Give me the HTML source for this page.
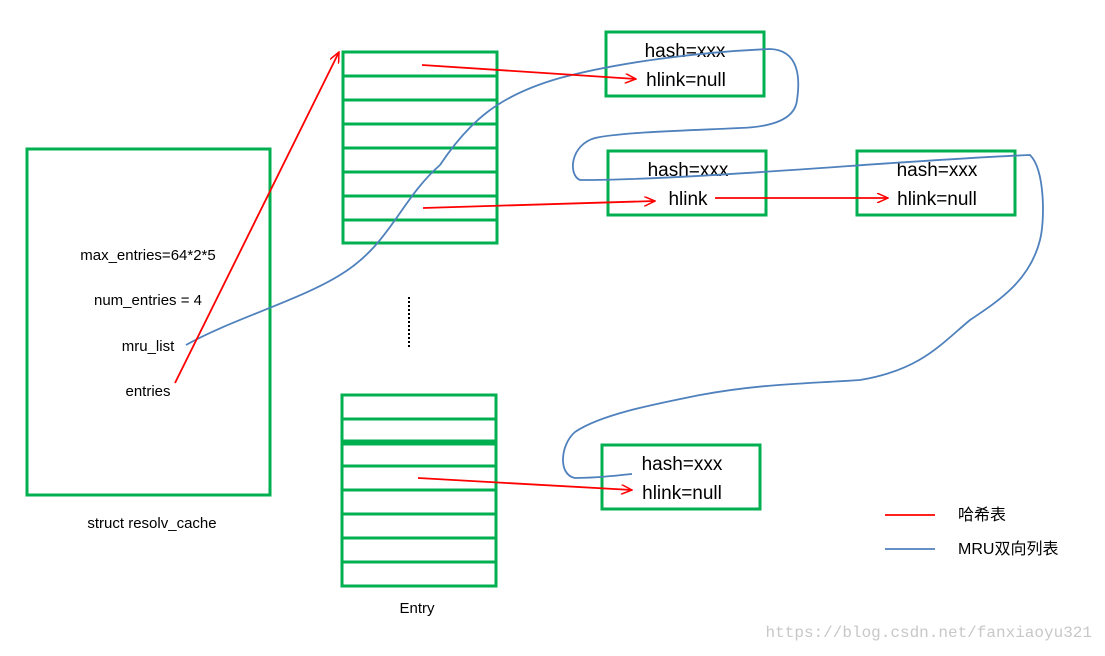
<!DOCTYPE html>
<html><head><meta charset="utf-8"><style>
body{margin:0;background:#fff;}
svg text{font-family:"Liberation Sans","Noto Sans CJK SC",sans-serif;fill:#000;}
</style></head><body>
<svg width="1105" height="651" xmlns="http://www.w3.org/2000/svg">
<defs>
<marker id="a" markerWidth="12" markerHeight="10" refX="11" refY="5" orient="auto" markerUnits="userSpaceOnUse">
<path d="M0,0 L11,5 L0,10" fill="none" stroke="#f00" stroke-width="1.5"/>
</marker>
</defs>
<g fill="none" stroke="#00b050" stroke-width="3">
<rect x="27" y="149" width="243" height="346"/>
<rect x="343" y="52" width="154" height="191"/>
<path d="M343 76H497M343 100H497M343 124H497M343 148H497M343 172H497M343 196H497M343 220H497"/>
<rect x="342" y="395" width="154" height="191"/>
<path d="M342 419H496M342 441H496M342 444H496M342 466H496M342 490H496M342 514H496M342 538H496M342 562H496"/>
<rect x="606" y="32" width="158" height="64"/>
<rect x="608" y="151" width="158" height="64"/>
<rect x="857" y="151" width="158" height="64"/>
<rect x="602" y="445" width="158" height="64"/>
</g>
<g font-size="15" text-anchor="middle">
<text x="148" y="260">max_entries=64*2*5</text>
<text x="148" y="305">num_entries  = 4</text>
<text x="148" y="351">mru_list</text>
<text x="148" y="396">entries</text>
<text x="152" y="528">struct resolv_cache</text>
<text x="417" y="613">Entry</text>
</g>
<g font-size="19" text-anchor="middle">
<text x="685" y="57">hash=xxx</text>
<text x="686" y="86">hlink=null</text>
<text x="688" y="176">hash=xxx</text>
<text x="688" y="205">hlink</text>
<text x="937" y="176">hash=xxx</text>
<text x="937" y="205">hlink=null</text>
<text x="682" y="470">hash=xxx</text>
<text x="682" y="499">hlink=null</text>
</g>
<path d="M409 297V347" stroke="#000" stroke-width="2" stroke-dasharray="2,2"/>
<path d="M186 345 C230 320,300 300,340 275 C390 245,400 200,440 165 C470 120,500 95,560 78 C620 62,700 52,770 49 C800 50,800 80,797 100 C795 120,770 127,740 128 C700 130,620 132,595 138 C570 145,568 175,580 180 C700 180,900 160,1030 155 C1045 170,1045 220,1040 240 C1030 280,1000 300,970 320 C940 345,920 370,860 380 C800 384,760 384,700 395 C650 405,600 415,575 432 C560 445,558 475,575 478 C600 478,620 475,632 474" fill="none" stroke="#4f81bd" stroke-width="1.8"/>
<g stroke="#f00" stroke-width="1.8" fill="none">
<path d="M175 383 L339 52" marker-end="url(#a)"/>
<path d="M422 65 L636 79" marker-end="url(#a)"/>
<path d="M423 208 L655 201" marker-end="url(#a)"/>
<path d="M715 198 L888 198" marker-end="url(#a)"/>
<path d="M418 478 L632 490" marker-end="url(#a)"/>
<path d="M885 515 H935"/>
</g>
<path d="M885 549 H935" stroke="#4f81bd" stroke-width="1.8"/>
<text x="958" y="520" font-size="16">哈希表</text>
<text x="958" y="554" font-size="16">MRU双向列表</text>
<text x="1092" y="637" font-size="16" text-anchor="end" style="font-family:'Liberation Mono',monospace;fill:#c8c8c8">https://blog.csdn.net/fanxiaoyu321</text>
</svg>
</body></html>
